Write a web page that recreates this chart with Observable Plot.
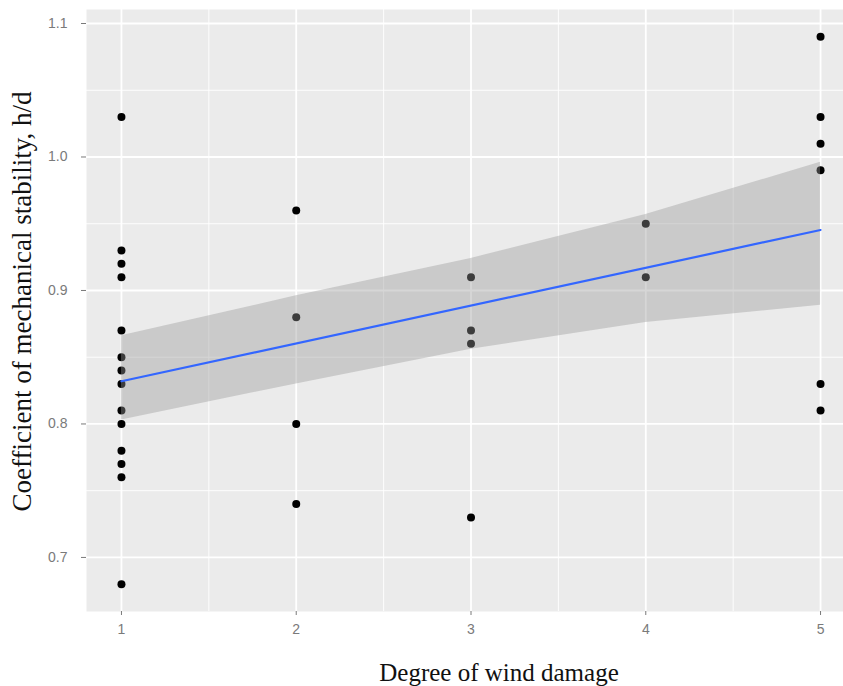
<!DOCTYPE html>
<html>
<head>
<meta charset="utf-8">
<script src="https://cdn.jsdelivr.net/npm/d3@7"></script>
<script src="https://cdn.jsdelivr.net/npm/@observablehq/plot@0.6"></script>
<style>
  body { margin: 0; background: #fff; }
  #chart { width: 843px; height: 686px; overflow: hidden; }
  #chart svg { max-width: none; }
</style>
</head>
<body>
<div id="chart"></div>
<script>
// Stem slenderness (h/d) of trees, grouped by the observed degree of wind damage
const degrees = [1, 2, 3, 4, 5];
const hdDegree1 = [1.03, 0.93, 0.92, 0.91, 0.87, 0.85, 0.84, 0.83, 0.81, 0.80, 0.78, 0.77, 0.76, 0.68];
const hdDegree2 = [0.96, 0.88, 0.80, 0.74];
const hdDegree3 = [0.91, 0.87, 0.86, 0.73];
const hdDegree4 = [0.95, 0.91];
const hdDegree5 = [1.09, 1.03, 1.01, 0.99, 0.83, 0.81];

// 95% confidence band of the linear fit, at each degree
const bandLower = [0.803, 0.830, 0.856, 0.876, 0.889];
const bandUpper = [0.866, 0.896, 0.924, 0.957, 0.996];

const xTicks = [1, 2, 3, 4, 5];
const xMinor = [1.5, 2.5, 3.5, 4.5];
const yTicks = [0.7, 0.8, 0.9, 1.0, 1.1];
const yMinor = [0.75, 0.85, 0.95, 1.05];

const xTitle = "Degree of wind damage";
const yTitle = "Coefficient of mechanical stability, h/d";

const groups = [hdDegree1, hdDegree2, hdDegree3, hdDegree4, hdDegree5];
const rows = degrees.flatMap((d, i) => groups[i].map(hd => ({degree: d, hd})));
const band = degrees.map((d, i) => ({degree: d, lo: bandLower[i], hi: bandUpper[i]}));

const tickColor = "#7a7a7a";
const serif = "'Liberation Serif', 'Times New Roman', serif";

const chart = Plot.plot({
  width: 855,
  height: 686,
  marginLeft: 86,
  marginRight: 0,
  marginTop: 9,
  marginBottom: 75,
  style: {fontFamily: "'Liberation Sans', Arial, sans-serif", background: "transparent", maxWidth: "none"},
  x: {domain: [0.8, 5.2]},
  y: {domain: [0.6595, 1.1105]},
  marks: [
    Plot.frame({fill: "#ebebeb", stroke: null}),
    Plot.gridX(xMinor, {stroke: "#fff", strokeOpacity: 1, strokeWidth: 0.9}),
    Plot.gridY(yMinor, {stroke: "#fff", strokeOpacity: 1, strokeWidth: 0.9}),
    Plot.gridX(xTicks, {stroke: "#fff", strokeOpacity: 1, strokeWidth: 1.8}),
    Plot.gridY(yTicks, {stroke: "#fff", strokeOpacity: 1, strokeWidth: 1.8}),
    Plot.axisX({ticks: xTicks, tickFormat: "d", tickSize: 4, tickPadding: 9, fontSize: 14, color: tickColor, label: null}),
    Plot.axisY({ticks: yTicks, tickFormat: ".1f", tickSize: 5, tickPadding: 14, fontSize: 14, color: tickColor, label: null}),
    Plot.dot(rows, {x: "degree", y: "hd", r: 4, fill: "#000", stroke: null}),
    Plot.areaY(band, {x: "degree", y1: "lo", y2: "hi", fill: "#999999", fillOpacity: 0.4}),
    Plot.linearRegressionY(rows, {x: "degree", y: "hd", ci: 0, stroke: "#3366ff", strokeWidth: 2.2}),
    Plot.text([xTitle], {frameAnchor: "bottom", lineAnchor: "middle", dx: 28, dy: 61, fontSize: 25, fontFamily: serif, fill: "#111"}),
    Plot.text([yTitle], {frameAnchor: "left", textAnchor: "middle", lineAnchor: "middle", rotate: -90, dx: -64, dy: -9, fontSize: 27, fontFamily: serif, fill: "#111"})
  ]
});

document.getElementById("chart").appendChild(chart);
</script>
</body>
</html>
